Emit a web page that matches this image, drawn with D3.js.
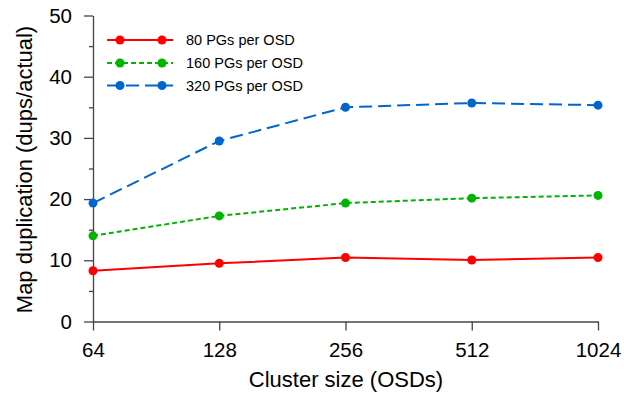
<!DOCTYPE html>
<html><head><meta charset="utf-8">
<script src="https://cdn.jsdelivr.net/npm/d3@7"></script>
<style>body{margin:0;background:#fff}svg{display:block}text{font-family:Arial,"Liberation Sans",sans-serif}</style>
</head><body><svg id="c" width="624" height="395"></svg>
<script>
const categories = ["64","128","256","512","1024"];
const seriesNames = ["80 PGs per OSD","160 PGs per OSD","320 PGs per OSD"];
const pg80 = [8.3, 9.5, 10.45, 10.05, 10.45];
const pg160 = [14.0, 17.25, 19.35, 20.15, 20.6];
const pg320 = [19.35, 29.5, 35.0, 35.7, 35.35];
const yTicks = [0,10,20,30,40,50];
const yMinor = [5,15,25,35,45];

const colors = ["#ff0000","#00b400","#0066cc"];
const dashes = [null,"5,3","13,6"];
const data = [pg80,pg160,pg320];
const FF = "Arial,'Liberation Sans',sans-serif";

const svg = d3.select("#c");
const x = d3.scalePoint().domain(categories).range([93,598]);
const y = d3.scaleLinear().domain([0,50]).range([321.5,15.5]);
const axisColor = "#444";

// y axis
const gy = svg.append("g").attr("transform","translate(93,0)")
  .call(d3.axisLeft(y).tickValues(yTicks).tickSize(9).tickPadding(12).tickSizeOuter(0));
gy.attr("font-size",20.5).attr("font-family",FF);
gy.selectAll("text").attr("fill","#000");
const gym = svg.append("g").attr("transform","translate(93,0)")
  .call(d3.axisLeft(y).tickValues(yMinor).tickSize(4).tickFormat("").tickSizeOuter(0));
gym.select(".domain").remove();

// x axis
const gx = svg.append("g").attr("transform","translate(0,321.5)")
  .call(d3.axisBottom(x).tickSize(9).tickPadding(12).tickSizeOuter(0));
gx.attr("font-size",20.5).attr("font-family",FF);
gx.selectAll("text").attr("fill","#000");
svg.selectAll(".domain, .tick line").attr("stroke",axisColor).attr("stroke-width",1.3);

// titles
svg.append("text").attr("x",346).attr("y",387).attr("text-anchor","middle").attr("font-size",22).text("Cluster size (OSDs)");
svg.append("text").attr("transform","translate(31.5,169.5) rotate(-90)").attr("text-anchor","middle").attr("font-size",22).text("Map duplication (dups/actual)");

// series
const line = d3.line().x((d,i)=>x(categories[i])).y(d=>y(d));
data.forEach((s,k)=>{
  svg.append("path").datum(s).attr("d",line).attr("fill","none")
    .attr("stroke",colors[k]).attr("stroke-width",2).attr("stroke-dasharray",dashes[k]);
  svg.selectAll(null).data(s).enter().append("circle")
    .attr("cx",(d,i)=>x(categories[i])).attr("cy",d=>y(d)).attr("r",4.5).attr("fill",colors[k]);
});

// legend
const legY = [40,63,85.5];
seriesNames.forEach((n,k)=>{
  const g = svg.append("g");
  g.append("line").attr("x1",107).attr("x2",173).attr("y1",legY[k]).attr("y2",legY[k])
    .attr("stroke",colors[k]).attr("stroke-width",2).attr("stroke-dasharray",dashes[k]);
  [120,162].forEach(cx=>g.append("circle").attr("cx",cx).attr("cy",legY[k]).attr("r",4.5).attr("fill",colors[k]));
  g.append("text").attr("x",186).attr("y",legY[k]+5).attr("font-size",14.5).text(n);
});
</script></body></html>
